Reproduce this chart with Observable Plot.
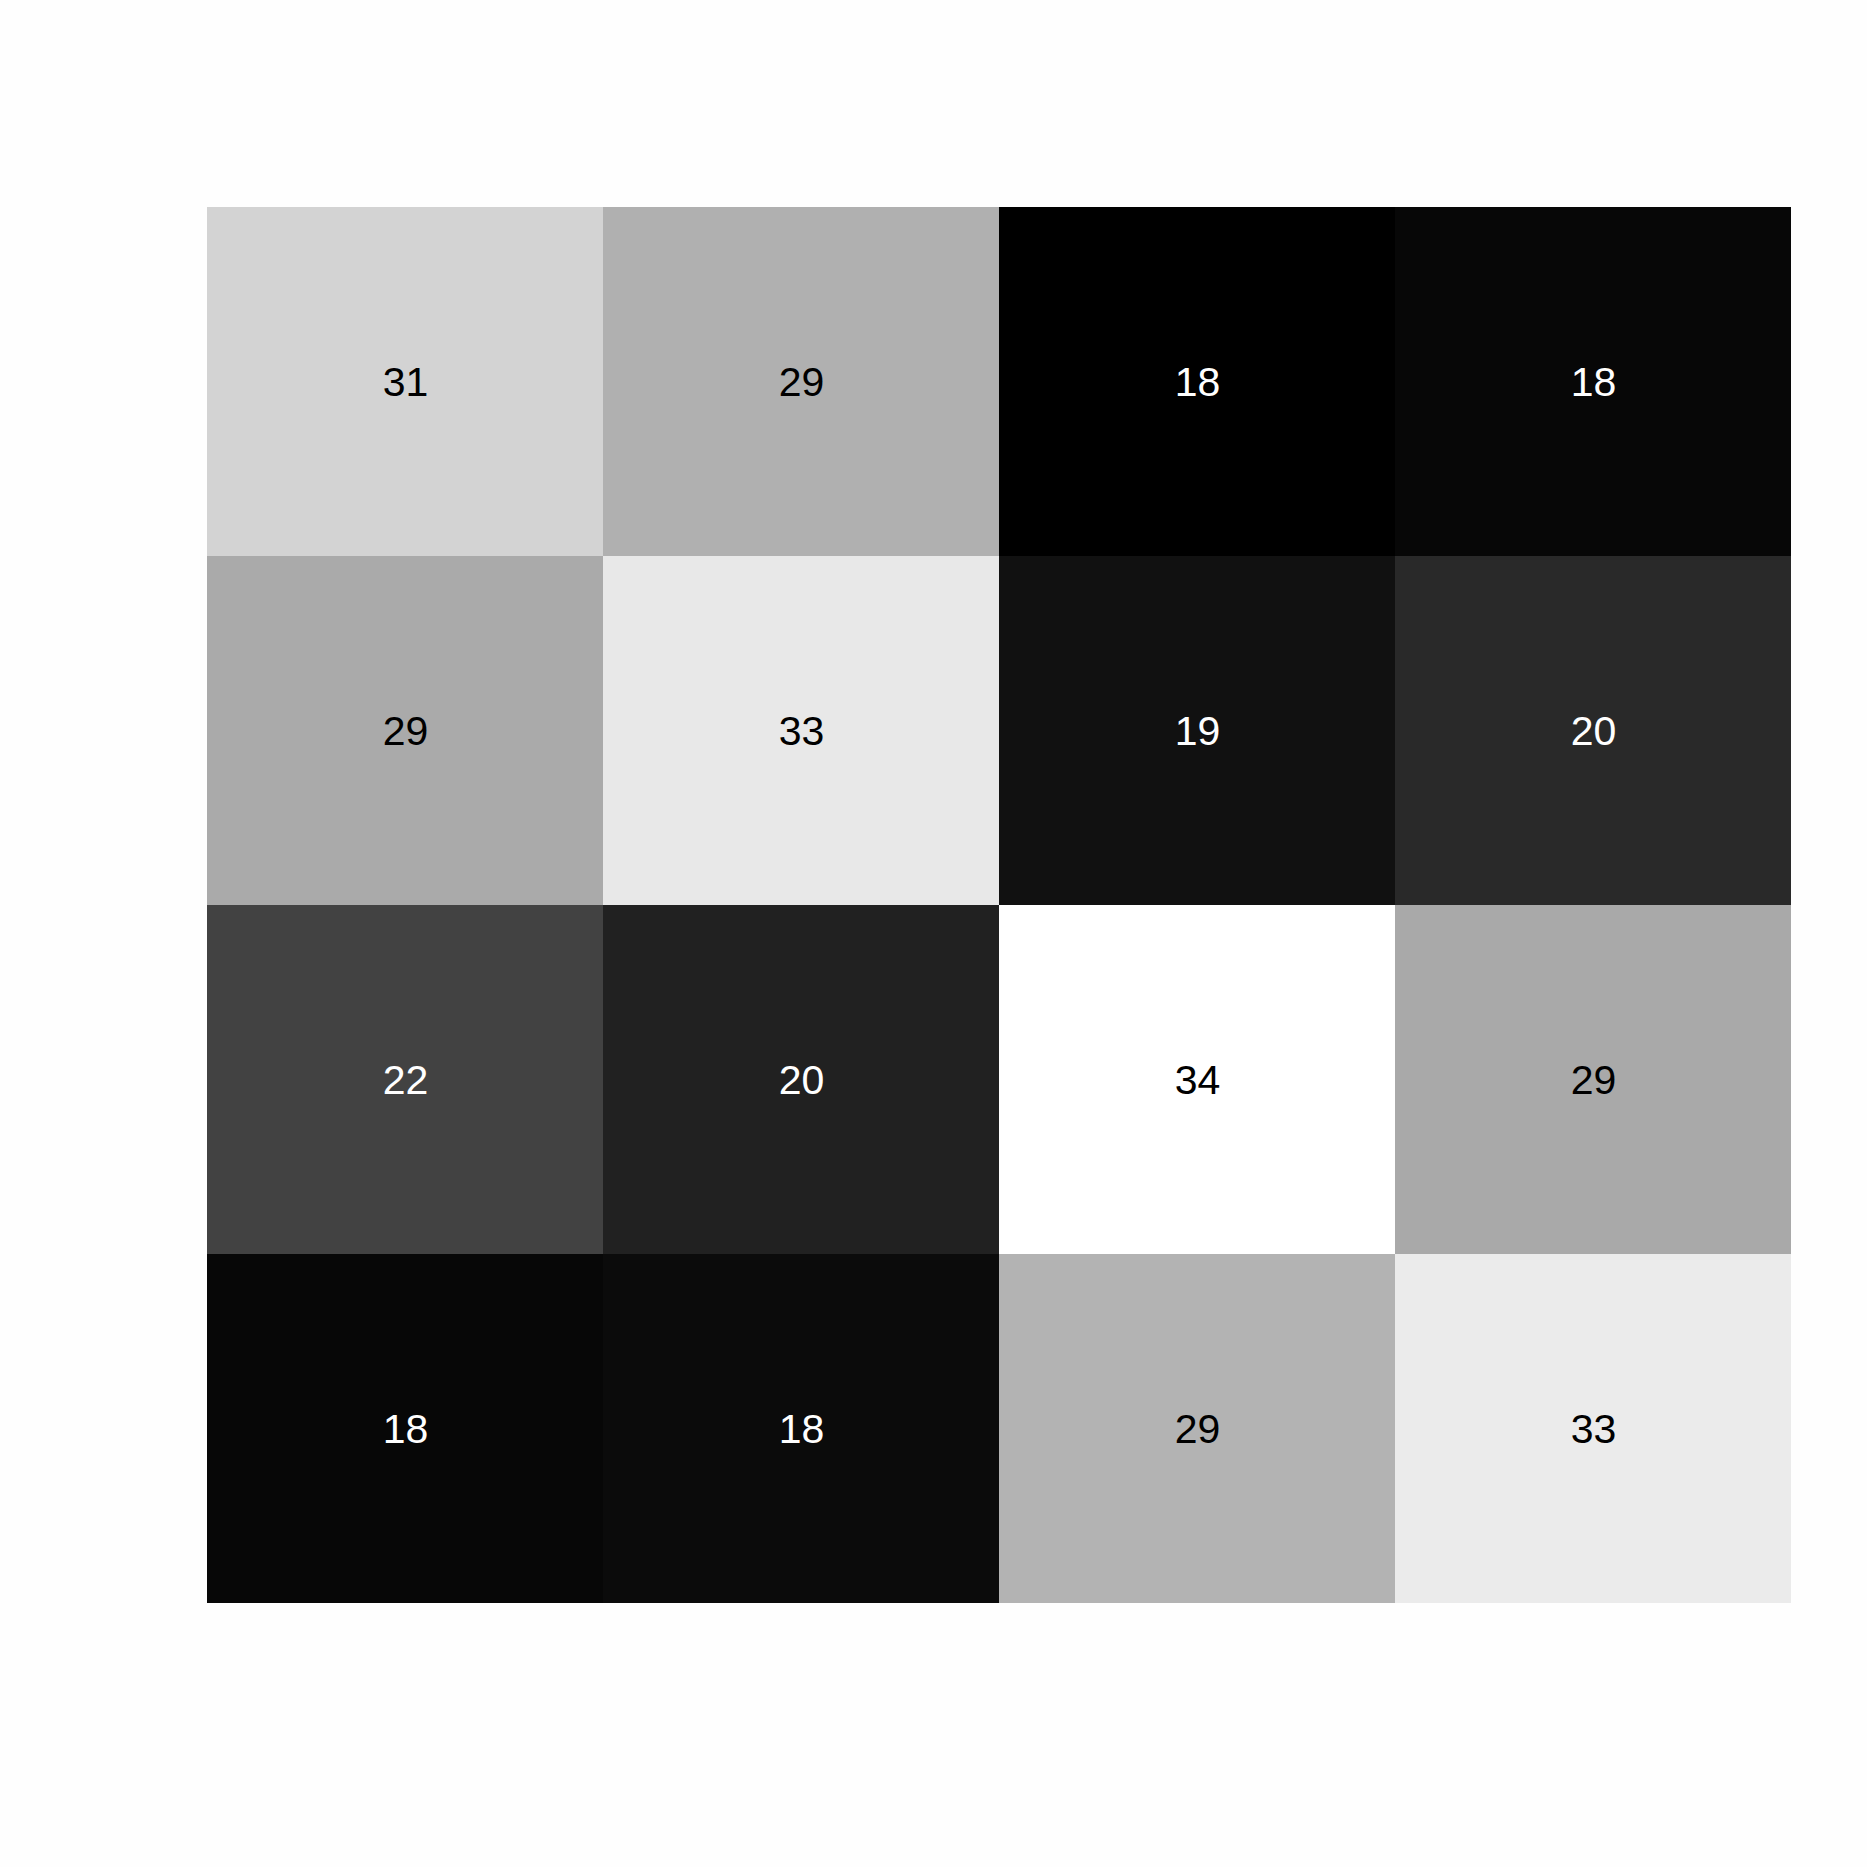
<!DOCTYPE html>
<html>
<head>
<meta charset="utf-8">
<script src="https://cdn.jsdelivr.net/npm/d3@7"></script>
<script src="https://cdn.jsdelivr.net/npm/@observablehq/plot@0.6"></script>
<style>
  html, body { margin: 0; padding: 0; background: #fefefe; }
  #chart svg { display: block; }
</style>
</head>
<body>
<div id="chart"></div>
<script>
// Categories
const columns = ["C1", "C2", "C3", "C4"];
const rows = ["R1", "R2", "R3", "R4"];
// Cell values, row by row (top to bottom)
const rowR1 = [31.20, 28.96, 17.68, 18.13];
const rowR2 = [28.58, 32.52, 18.77, 20.31];
const rowR3 = [21.91, 19.80, 34.00, 28.52];
const rowR4 = [18.13, 18.39, 29.15, 32.74];
const rowValues = [rowR1, rowR2, rowR3, rowR4];

const data = [];
rows.forEach((r, i) => columns.forEach((c, j) => data.push({row: r, col: c, value: rowValues[i][j]})));

const [vmin, vmax] = d3.extent(data, d => d.value);
const mid = (vmin + vmax) / 2;

const chart = Plot.plot({
  width: 1867,
  height: 1867,
  marginLeft: 206,
  marginTop: 206,
  marginRight: 76,
  marginBottom: 263,
  style: {background: "#fefefe", fontFamily: "'Liberation Sans', Arial, sans-serif"},
  x: {domain: columns, padding: 0, axis: null},
  y: {domain: rows, padding: 0, axis: null},
  color: {type: "linear", domain: [vmin, vmax], range: ["#000000", "#ffffff"], interpolate: "rgb"},
  marks: [
    Plot.cell(data, {x: "col", y: "row", fill: "value"}),
    Plot.text(data, {
      x: "col", y: "row",
      text: d => d3.format(".0f")(d.value),
      fill: d => d.value < mid ? "white" : "black",
      fontSize: 41,
      dy: 1
    })
  ]
});
document.getElementById("chart").appendChild(chart);
</script>
</body>
</html>
